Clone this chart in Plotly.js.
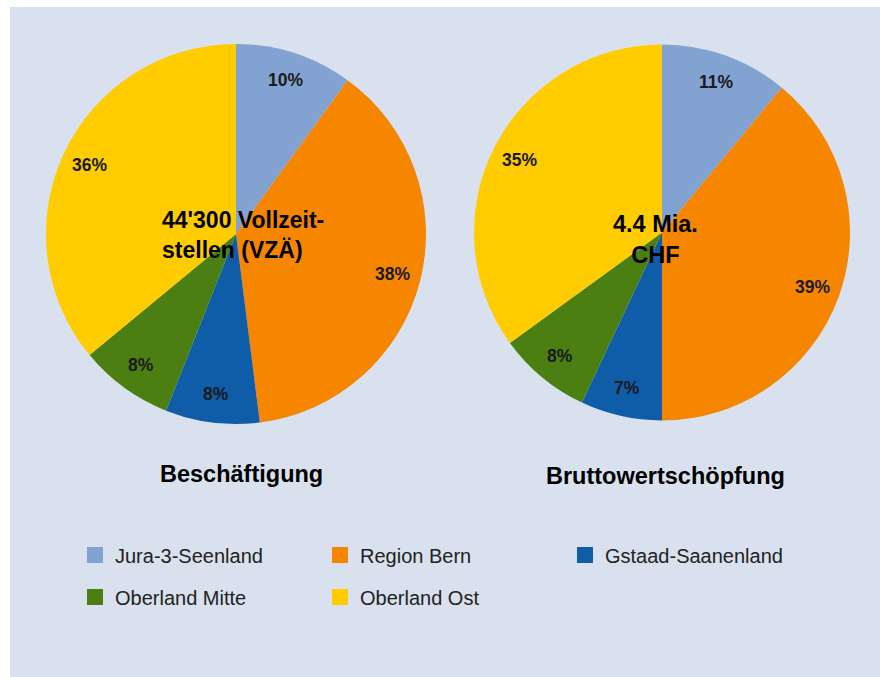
<!DOCTYPE html>
<html>
<head>
<meta charset="utf-8">
<script src="https://cdn.plot.ly/plotly-3.0.1.min.js"></script>
<style>html,body{margin:0;padding:0;background:#fff;}#chart{width:880px;height:677px;}</style>
</head>
<body>
<div id="chart"></div>
<script>
// ---- data ----
const regions = ["Jura-3-Seenland", "Region Bern", "Gstaad-Saanenland", "Oberland Mitte", "Oberland Ost"];
const colors = ["#82a3d1", "#f68500", "#0f5ca8", "#4b7f12", "#ffcc00"];
const beschaeftigung = [10, 38, 8, 8, 36];
const bruttowertschoepfung = [11, 39, 7, 8, 35];
const pieTitles = ["Beschäftigung", "Bruttowertschöpfung"];
const centerTexts = ["44'300 Vollzeit-<br>stellen (VZÄ)", "4.4 Mia.<br>CHF"];
const legendRow1 = [0, 1, 2];
const legendRow2 = [3, 4];

// ---- layout constants ----
const W = 880, H = 677;
const FONT = "Arial, 'Liberation Sans', sans-serif";
const domains = [
  {x: [46 / W, 426 / W], y: [1 - 424 / H, 1 - 44 / H]},
  {x: [474 / W, 850 / W], y: [1 - 420.5 / H, 1 - 44.5 / H]}
];

const series = [beschaeftigung, bruttowertschoepfung];
const traces = series.map((vals, i) => ({
  type: "pie",
  labels: regions,
  values: vals,
  sort: false,
  direction: "clockwise",
  rotation: 0,
  marker: {colors: colors, line: {width: 0}},
  textinfo: "none",
  hoverinfo: "label+percent",
  showlegend: false,
  domain: domains[i]
}));

// legend entries (dummy traces drawn only in the legends)
regions.forEach((name, idx) => {
  traces.push({
    type: "scatter", mode: "markers", x: [null], y: [null],
    name: name,
    marker: {symbol: "square", size: 16, color: colors[idx]},
    legend: legendRow1.includes(idx) ? "legend" : "legend2",
    hoverinfo: "skip"
  });
});

// percent labels positioned from the data along each slice's mid-angle
const annotations = [];
series.forEach((vals, i) => {
  const d = domains[i];
  const cx = (d.x[0] + d.x[1]) / 2 * W;
  const cy = (1 - (d.y[0] + d.y[1]) / 2) * H;
  const r = (d.x[1] - d.x[0]) * W / 2;
  const total = vals.reduce((a, b) => a + b, 0);
  let cum = 0;
  vals.forEach(v => {
    const th = 2 * Math.PI * (cum + v / 2) / total;
    cum += v;
    const px = cx + 0.85 * r * Math.sin(th);
    const py = cy - 0.85 * r * Math.cos(th);
    annotations.push({
      xref: "paper", yref: "paper", x: px / W, y: 1 - py / H,
      xanchor: "center", yanchor: "middle", showarrow: false,
      text: "<b>" + Math.round(100 * v / total) + "%</b>",
      font: {family: FONT, size: 17.5, color: "#1a1a1a"}
    });
  });
});

// center texts
annotations.push({
  xref: "paper", yref: "paper", x: 160 / W, y: 1 - 235 / H,
  xanchor: "left", yanchor: "middle", align: "left", showarrow: false,
  text: "<b>" + centerTexts[0].replace("<br>", "</b><br><b>") + "</b>",
  font: {family: FONT, size: 23, color: "#000"}
});
annotations.push({
  xref: "paper", yref: "paper", x: 655.5 / W, y: 1 - 240 / H,
  xanchor: "center", yanchor: "middle", align: "center", showarrow: false,
  text: "<b>" + centerTexts[1].replace("<br>", "</b><br><b>") + "</b>",
  font: {family: FONT, size: 23.5, color: "#000"}
});

// titles under the pies
annotations.push({
  xref: "paper", yref: "paper", x: 241.5 / W, y: 1 - 474 / H,
  xanchor: "center", yanchor: "middle", showarrow: false,
  text: "<b>" + pieTitles[0] + "</b>",
  font: {family: FONT, size: 23.5, color: "#000"}
});
annotations.push({
  xref: "paper", yref: "paper", x: 665 / W, y: 1 - 476 / H,
  xanchor: "center", yanchor: "middle", showarrow: false,
  text: "<b>" + pieTitles[1] + "</b>",
  font: {family: FONT, size: 23.5, color: "#000"}
});

const legendCommon = {
  orientation: "h", xanchor: "left", yanchor: "middle",
  entrywidth: 200, entrywidthmode: "pixels",
  bgcolor: "rgba(0,0,0,0)", borderwidth: 0,
  font: {family: FONT, size: 20, color: "#222"},
  itemclick: false, itemdoubleclick: false
};

const layout = {
  width: W, height: H,
  margin: {l: 0, r: 0, t: 0, b: 0},
  paper_bgcolor: "#ffffff",
  plot_bgcolor: "rgba(0,0,0,0)",
  showlegend: true,
  xaxis: {visible: false, range: [0, 1], fixedrange: true},
  yaxis: {visible: false, range: [0, 1], fixedrange: true},
  legend: Object.assign({x: 75 / W, y: 1 - 555 / H}, legendCommon),
  legend2: Object.assign({x: 75 / W, y: 1 - 597 / H}, legendCommon),
  shapes: [{
    type: "rect", xref: "paper", yref: "paper", layer: "below",
    x0: 10 / W, x1: 1, y0: 0, y1: 1 - 7 / H,
    fillcolor: "#d8e1ed", line: {width: 0}
  }],
  annotations: annotations
};

Plotly.newPlot("chart", traces, layout, {displayModeBar: false, staticPlot: true});
</script>
</body>
</html>
